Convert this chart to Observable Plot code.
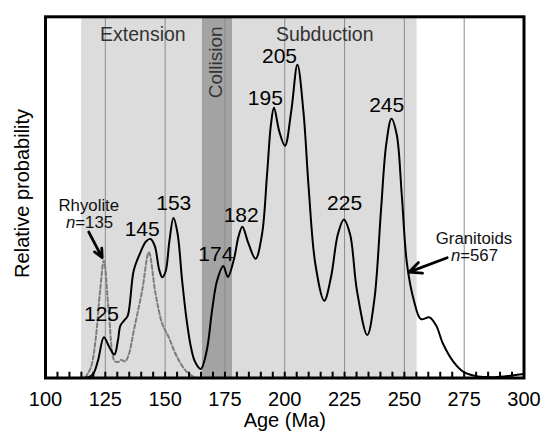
<!DOCTYPE html>
<html><head><meta charset="utf-8">
<script src="https://cdn.jsdelivr.net/npm/d3@7"></script>
<script src="https://cdn.jsdelivr.net/npm/@observablehq/plot@0.6"></script>
<style>body{margin:0;background:#fff}#chart svg{display:block}</style>
</head><body><div id="chart"></div>
<script>
// Granitoids (n=567) probability curve
const graniteAge  = [115, 118, 120, 122, 124.4, 126.5, 128.8, 130.3, 131.3, 133, 134.4, 136.9, 139.7, 142, 143.9, 145.7, 147.5, 148.8, 150.2, 151.8, 153.5, 155.2, 157.1, 159, 160.8, 162.5, 164.9, 167.4, 169.6, 171.7, 174.3, 176.2, 178.9, 180.6, 182.3, 184.7, 187.8, 190.5, 192.6, 194.2, 195.5, 197.7, 200.1, 202.7, 205.3, 207.8, 210, 212.8, 216.5, 219.3, 222.2, 224.7, 227.3, 230.2, 234.5, 237.4, 240.3, 242.4, 244.6, 246.8, 248.9, 251.1, 254, 256.9, 260.5, 263.3, 266.2, 270.6, 274.9, 280.7, 287.9, 295.1, 300];
const graniteProb = [0, 0.2, 1.2, 5, 11.3, 8.8, 6.5, 10.5, 14.5, 16, 17.3, 29.8, 34.8, 37.8, 38.5, 36.5, 30, 27.9, 29.5, 38, 44.3, 40, 27, 16, 8.5, 4.5, 2.5, 7.6, 18.6, 26.9, 31, 28, 33.3, 39, 41.9, 37.5, 33, 39.8, 56.3, 70, 74.9, 68.3, 64.3, 73.8, 86.7, 73.8, 52.6, 31.5, 21.4, 27.8, 39.8, 43.9, 39.8, 24.1, 11.9, 21.4, 47.1, 64.6, 71.8, 67.4, 50.8, 31.5, 21.4, 16.3, 16.8, 14.5, 9.4, 4.4, 1.6, 0.4, 0.2, 0.7, 1.1];

// Rhyolite (n=135) probability curve
const rhyoliteAge  = [116.7, 119, 120.9, 122.8, 124.4, 126.5, 128.8, 130.2, 131.7, 133.3, 134.8, 136.9, 140.4, 143.2, 146, 148.8, 151.5, 155, 159.2, 163];
const rhyoliteProb = [0.2, 3, 10.4, 24, 32.5, 17.8, 4.8, 4.4, 5, 4.6, 6.5, 13.1, 24.2, 34.8, 23.3, 15, 11.3, 5.8, 1.6, 0];

// Tectonic regimes
const regimeName  = ["Extension", "Collision", "Subduction"];
const regimeStart = [115.1, 165.6, 178.2];
const regimeEnd   = [165.6, 178.2, 255.3];

// Axis ticks and grid
const xTickLabels = [100, 125, 150, 175, 200, 225, 250, 275, 300];
const xMinorTicks = [100, 105, 110, 115, 120, 125, 130, 135, 140, 145, 150, 155, 160, 165, 170, 175, 180, 185, 190, 195, 200, 205, 210, 215, 220, 225, 230, 235, 240, 245, 250, 255, 260, 265, 270, 275, 280, 285, 290, 295, 300];
const gridAges = [125, 150, 175, 200, 225, 250, 275];

// Peak age labels
const peakText = ["125", "145", "153", "174", "182", "195", "205", "225", "245"];
const peakAge  = [123.4, 140.4, 153.6, 171.2, 181.8, 191.9, 197.8, 225, 242.6];
const peakProb = [17.7, 41.3, 48.5, 34.3, 45.0, 77.5, 89.0, 48.5, 75.6];

// Annotations
const noteText = ["Rhyolite", "n=135", "Granitoids", "n=567"];
const noteAge  = [118.1, 118.4, 279.1, 279.3];
const noteProb = [47.8, 43.0, 38.6, 33.8];
const arrowFromAge = [118.1, 267.9];
const arrowFromProb = [40.4, 33.3];
const arrowToAge = [123.7, 251.9];
const arrowToProb = [33.3, 29.3];

const granite = graniteAge.map((a, i) => ({age: a, p: graniteProb[i]}));
const rhyolite = rhyoliteAge.map((a, i) => ({age: a, p: rhyoliteProb[i]}));
const regimes = regimeName.map((n, i) => ({name: n, x1: regimeStart[i], x2: regimeEnd[i]}));
const peaks = peakText.map((t, i) => ({t, age: peakAge[i], p: peakProb[i]}));
const notes = noteText.map((t, i) => ({t, age: noteAge[i], p: noteProb[i]}));
const arrows = arrowFromAge.map((a, i) => ({x1: a, y1: arrowFromProb[i], x2: arrowToAge[i], y2: arrowToProb[i]}));

const FONT = "'Liberation Sans', Arial, sans-serif";

const chart = Plot.plot({
  width: 542,
  height: 434,
  marginLeft: 45,
  marginRight: 18.5,
  marginTop: 16.3,
  marginBottom: 56.5,
  style: {fontFamily: FONT, background: "#fff", color: "#000"},
  x: {domain: [100, 300]},
  y: {domain: [0, 100], axis: null},
  marks: [
    Plot.rect(regimes, {x1: "x1", x2: "x2", y1: 0, y2: 100, fill: d => d.name === "Collision" ? "#a3a3a3" : "#dcdcdc"}),
    Plot.ruleX(gridAges, {y1: 0, y2: 100, stroke: "#8c8c8c", strokeWidth: 1}),
    Plot.line(rhyolite, {x: "age", y: "p", curve: "catmull-rom", stroke: "#7d7d7d", strokeWidth: 2, strokeDasharray: "4,2.5"}),
    Plot.line(granite, {x: "age", y: "p", curve: "catmull-rom", stroke: "#000", strokeWidth: 2}),
    Plot.ruleX(xMinorTicks, {y1: 0, y2: 1.6, stroke: "#000", strokeWidth: 2}),
    Plot.axisX({ticks: xTickLabels, tickSize: 0, tickPadding: 13.5, fontSize: 20, label: null, tickFormat: d => String(d)}),
    Plot.frame({stroke: "#000", strokeWidth: 3}),
    Plot.text(["Age (Ma)"], {frameAnchor: "bottom", dy: 48.5, fontSize: 20}),
    Plot.text(["Relative probability"], {frameAnchor: "left", textAnchor: "middle", dx: -23, dy: -4, rotate: -90, fontSize: 20}),
    Plot.text(regimes.filter(d => d.name !== "Collision"), {x: d => d.name === "Extension" ? 140.7 : 216.7, y: 94.9, text: "name", fontSize: 19.5, fill: "#333"}),
    Plot.text(regimes.filter(d => d.name === "Collision"), {x: 171.2, y: 87.4, text: "name", rotate: -90, fontSize: 19, fill: "#333"}),
    Plot.text(peaks, {x: "age", y: "p", text: "t", fontSize: 21}),
    Plot.text(notes, {x: "age", y: "p", text: "t", fontSize: 16.8, fill: "#111"}),
    Plot.arrow(arrows, {x1: "x1", y1: "y1", x2: "x2", y2: "y2", stroke: "#000", strokeWidth: 2.8, headLength: 11, headAngle: 50})
  ]
});
document.getElementById("chart").appendChild(chart);
// italic n in the sample-size notes
chart.querySelectorAll("text").forEach(t => {
  if (/^n=\d+$/.test(t.textContent)) {
    const num = t.textContent.slice(1);
    t.textContent = "";
    const a = document.createElementNS("http://www.w3.org/2000/svg", "tspan");
    a.setAttribute("font-style", "italic"); a.textContent = "n";
    const b = document.createElementNS("http://www.w3.org/2000/svg", "tspan");
    b.textContent = num;
    t.appendChild(a); t.appendChild(b);
  }
});
</script>
</body></html>
